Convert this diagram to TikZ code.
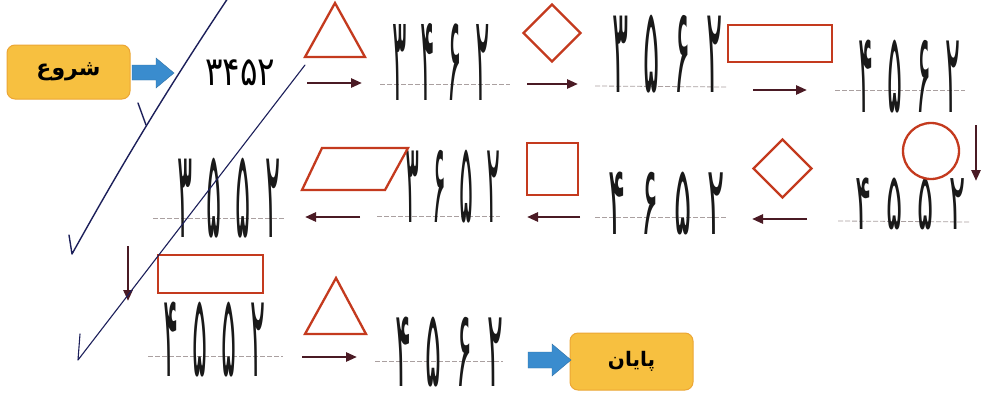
\documentclass[tikz,border=0pt]{standalone}
\usepackage{fontspec}
\usepackage{graphicx}
\usetikzlibrary{arrows.meta,shapes.geometric}
\TeXXeTstate=1
\newfontfamily\arabicfont[Script=Arabic]{DejaVu Sans}
\newfontfamily\digitfont{DejaVu Sans}
\definecolor{shapered}{RGB}{196,58,30}
\definecolor{flowmaroon}{RGB}{74,26,36}
\definecolor{guidegray}{RGB}{170,160,160}
\definecolor{penblue}{RGB}{28,31,90}
\definecolor{boxyellow}{RGB}{247,192,64}
\definecolor{boxedge}{RGB}{236,166,52}
\definecolor{arrowblue}{RGB}{58,140,206}
\newcommand\hs{\hspace{0.5em}}
\newcommand\hwnum[3]{\resizebox*{#1pt}{#2pt}{\digitfont #3}}
\begin{document}
\begin{tikzpicture}[x=1pt,y=-1pt,
  shp/.style={draw=shapered, line width=2.3pt, inner sep=0pt},
  flow/.style={draw=flowmaroon, line width=2.6pt, -{Triangle[length=11pt,width=9pt]}},
  guide/.style={draw=guidegray, line width=0.8pt, dash pattern=on 5pt off 2pt},
  pen/.style={draw=penblue, line width=1.4pt, line cap=round, line join=round},
  endbox/.style={rounded corners=8pt, fill=boxyellow, draw=boxedge, line width=1pt, minimum width=123pt, inner sep=0pt},
  bluearr/.style={fill=arrowblue, draw=arrowblue!80!black, line width=0.4pt},
  hw/.style={anchor=north west, inner sep=0pt, text=black!90}
]
\useasboundingbox (0,0) rectangle (985,405);
\fill[white] (0,0) rectangle (985,405);

% guide lines
\draw[guide] (380,84) -- (510,84);
\draw[guide] (595,86) -- (727,87);
\draw[guide] (835,90) -- (965,90);
\draw[guide] (838,221) -- (970,222);
\draw[guide] (595,217) -- (727,217);
\draw[guide] (377,216) -- (500,216);
\draw[guide] (153,218) -- (285,218);
\draw[guide] (148,356) -- (283,356);
\draw[guide] (375,361) -- (503,361);

% start / end boxes
\node[endbox, minimum height=54pt] (start) at (68.5,72) {\fontsize{22}{22}\selectfont\arabicfont\bfseries\beginR شروع\endR};
\node[endbox, minimum height=57pt] (finish) at (631.5,361.5) {\fontsize{20}{20}\selectfont\arabicfont\bfseries\beginR پایان\endR};

% blue block arrows
\filldraw[bluearr] (132,65) -- (156,65) -- (156,58) -- (174,73) -- (156,88) -- (156,80) -- (132,80) -- cycle;
\filldraw[bluearr] (528,352) -- (552,352) -- (552,344) -- (571,360) -- (552,376) -- (552,368) -- (528,368) -- cycle;

% printed start number
\node[anchor=north west, inner sep=0pt] (n0) at (205,60) {\resizebox*{70pt}{26pt}{\digitfont ۳۴۵۲}};

% handwritten numbers
\node[hw] (n1) at (392,23) {\hwnum{98}{77}{۳\hs۴\hs۶\hs۲}};
\node[hw] (n2) at (612,15) {\hwnum{110}{78}{۳\hs۵\hs۶\hs۲}};
\node[hw] (n3) at (858,40) {\hwnum{102}{73}{۴\hs۵\hs۶\hs۲}};
\node[hw] (n4) at (855,178) {\hwnum{110}{52}{۴\hs۵\hs۵\hs۲}};
\node[hw] (n5) at (608,172) {\hwnum{117}{63}{۴\hs۶\hs۵\hs۲}};
\node[hw] (n6) at (405,150) {\hwnum{95}{73}{۳\hs۶\hs۵\hs۲}};
\node[hw] (n7) at (177,158) {\hwnum{103}{80}{۳\hs۵\hs۵\hs۲}};
\node[hw] (n8) at (163,302) {\hwnum{102}{75}{۴\hs۵\hs۵\hs۲}};
\node[hw] (n9) at (395,317) {\hwnum{108}{70}{۴\hs۵\hs۶\hs۲}};

% operation shapes
\draw[shp, line join=miter] (305,57) -- (335,3) -- (365,57) -- cycle;
\node[shp, diamond, minimum width=58pt, minimum height=58pt] (d1) at (552,33) {};
\node[shp, rectangle, minimum width=104pt, minimum height=37pt] (r1) at (780,43.5) {};
\node[shp, circle, minimum size=56pt] (c1) at (931,151) {};
\node[shp, diamond, minimum width=59pt, minimum height=59pt] (d2) at (782.5,168.5) {};
\node[shp, rectangle, minimum width=51pt, minimum height=52pt] (s1) at (552.5,169) {};
\draw[shp] (302,190) -- (385,190) -- (408,148) -- (322,148) -- cycle;
\node[shp, rectangle, minimum width=105pt, minimum height=38pt] (r2) at (210.5,274) {};
\draw[shp] (305,334) -- (336,278) -- (366,334) -- cycle;

% flow arrows
\coordinate (a1s) at (307,83);  \coordinate (a1e) at (362,83);
\coordinate (a2s) at (527,84);  \coordinate (a2e) at (578,84);
\coordinate (a3s) at (753,90);  \coordinate (a3e) at (807,90);
\coordinate (a4s) at (976,125); \coordinate (a4e) at (976,181);
\coordinate (a5s) at (807,219); \coordinate (a5e) at (752,219);
\coordinate (a6s) at (580,217); \coordinate (a6e) at (527,217);
\coordinate (a7s) at (360,217); \coordinate (a7e) at (305,217);
\coordinate (a8s) at (128,246); \coordinate (a8e) at (128,301);
\coordinate (a9s) at (302,357); \coordinate (a9e) at (357,357);
\foreach \i in {1,...,9} {\draw[flow] (a\i s) -- (a\i e);}

% pen strokes
\draw[pen] (69,235) -- (72,254) .. controls (105,195) and (150,115) .. (228,-2);
\draw[pen] (138,103) -- (146,125);
\draw[pen, line width=1.1pt] (80,334) -- (78,360) -- (305,65);
\end{tikzpicture}
\end{document}
